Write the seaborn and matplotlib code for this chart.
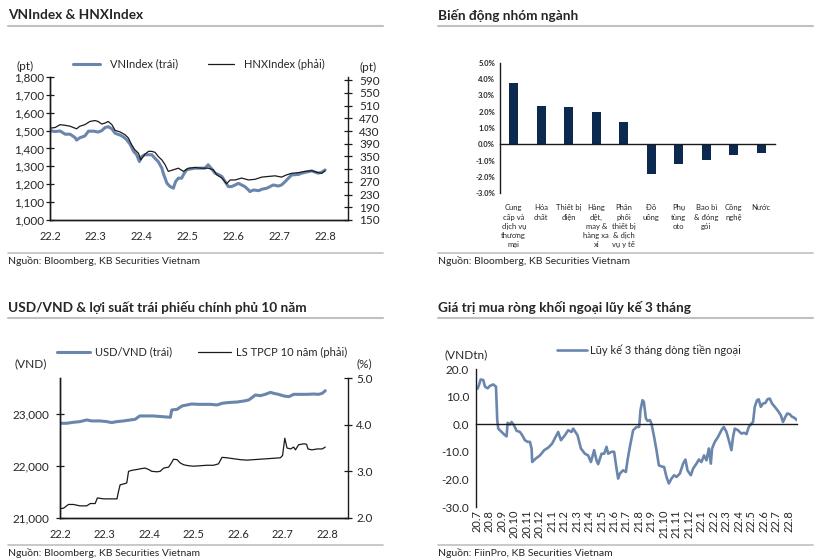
import numpy as np
import matplotlib
matplotlib.use("Agg")
import matplotlib.pyplot as plt
import seaborn as sns
from matplotlib.lines import Line2D
from matplotlib.ticker import FuncFormatter

# VNIndex / HNXIndex (x = months since 22.2)
vn_month = [0.00, 0.11, 0.22, 0.33, 0.44, 0.55, 0.58, 0.65, 0.76, 0.84, 0.95, 1.05, 1.13, 1.20,
            1.27, 1.35, 1.42, 1.53, 1.60, 1.67, 1.75, 1.82, 1.89, 1.95, 2.00, 2.07, 2.15, 2.22,
            2.29, 2.36, 2.44, 2.47, 2.55, 2.62, 2.69, 2.74, 2.80, 2.87, 2.93, 2.98, 3.05, 3.16,
            3.27, 3.38, 3.45, 3.53, 3.60, 3.67, 3.75, 3.82, 3.89, 3.96, 4.04, 4.11, 4.18, 4.25,
            4.33, 4.36, 4.44, 4.55, 4.62, 4.73, 4.80, 4.87, 4.98, 5.05, 5.13, 5.20, 5.27, 5.42,
            5.49, 5.64, 5.71, 5.78, 5.85, 5.93, 6.00]
vn_value = [1500, 1495, 1498, 1480, 1480, 1460, 1447, 1460, 1470, 1497, 1497, 1492, 1500, 1517,
            1522, 1510, 1485, 1475, 1465, 1450, 1423, 1385, 1365, 1327, 1355, 1365, 1365, 1365,
            1345, 1327, 1290, 1262, 1206, 1187, 1178, 1215, 1234, 1234, 1262, 1281, 1285, 1290,
            1290, 1290, 1309, 1285, 1262, 1255, 1243, 1215, 1187, 1187, 1196, 1205, 1196, 1187,
            1168, 1159, 1168, 1164, 1172, 1178, 1187, 1196, 1190, 1196, 1215, 1234, 1252, 1255,
            1262, 1271, 1275, 1268, 1262, 1268, 1280]
hnx_month = [0.00, 0.11, 0.22, 0.33, 0.44, 0.58, 0.65, 0.76, 0.87, 0.98, 1.05, 1.13, 1.20, 1.27,
             1.35, 1.42, 1.53, 1.64, 1.71, 1.78, 1.85, 1.93, 1.98, 2.07, 2.15, 2.22, 2.29, 2.36,
             2.44, 2.51, 2.58, 2.69, 2.80, 2.91, 3.02, 3.16, 3.31, 3.45, 3.56, 3.64, 3.75, 3.85,
             3.93, 4.04, 4.18, 4.33, 4.47, 4.62, 4.76, 4.91, 5.05, 5.16, 5.27, 5.42, 5.56, 5.71,
             5.85, 5.93, 6.00]
hnx_value = [439, 441, 450, 448, 445, 437, 445, 450, 460, 463, 460, 452, 455, 460,
             450, 432, 427, 418, 408, 387, 371, 360, 339, 357, 366, 366, 363, 350,
             339, 324, 303, 308, 313, 303, 313, 315, 313, 313, 308, 292, 282, 264,
             276, 276, 282, 276, 278, 285, 287, 289, 285, 292, 297, 299, 303, 305,
             299, 297, 305]
month_labels = ["22.2", "22.3", "22.4", "22.5", "22.6", "22.7", "22.8"]

# Sector performance
sectors = ["Cung\ncấp và\ndịch vụ\nthương\nmại", "Hóa\nchất", "Thiết bị\nđiện",
           "Hàng\ndệt,\nmay &\nhàng xa\nxỉ", "Phân\nphối\nthiết bị\n& dịch\nvụ y tế",
           "Đồ\nuống", "Phụ\ntùng\noto", "Bao bì\n& đóng\ngói", "Công\nnghệ", "Nước"]
sector_change = [3.73, 2.36, 2.30, 1.97, 1.39, -1.80, -1.19, -0.94, -0.68, -0.51]

# USD/VND and 10Y government bond yield
usd_month = [0.00, 0.15, 0.30, 0.45, 0.60, 0.71, 0.90, 1.05, 1.16, 1.28, 1.43, 1.58, 1.69, 1.79,
             1.95, 2.10, 2.29, 2.48, 2.51, 2.63, 2.74, 2.85, 2.96, 3.11, 3.23, 3.38, 3.53, 3.64,
             3.75, 3.86, 3.98, 4.13, 4.24, 4.31, 4.39, 4.50, 4.61, 4.73, 4.80, 4.91, 5.03, 5.14,
             5.25, 5.40, 5.55, 5.70, 5.81, 5.89, 5.96]
usd_value = [22827, 22827, 22846, 22859, 22891, 22872, 22872, 22859, 22840, 22859, 22872, 22891,
             22904, 22968, 22968, 22968, 22955, 22942, 23083, 23096, 23160, 23180, 23199, 23192,
             23192, 23192, 23180, 23212, 23224, 23231, 23237, 23256, 23276, 23320, 23372, 23359,
             23385, 23423, 23404, 23385, 23353, 23340, 23385, 23385, 23385, 23391, 23385, 23404,
             23455]
bond_month = [0.00, 0.08, 0.19, 0.30, 0.45, 0.60, 0.68, 0.79, 0.84, 0.98, 1.13, 1.28, 1.31, 1.35,
              1.43, 1.50, 1.54, 1.61, 1.73, 1.84, 1.91, 1.99, 2.06, 2.18, 2.25, 2.33, 2.44, 2.49,
              2.55, 2.63, 2.70, 2.78, 2.89, 3.00, 3.15, 3.30, 3.45, 3.56, 3.64, 3.75, 3.90, 4.05,
              4.20, 4.35, 4.50, 4.65, 4.80, 4.95, 5.00, 5.05, 5.10, 5.18, 5.25, 5.29, 5.36, 5.48,
              5.54, 5.57, 5.66, 5.78, 5.89, 5.96]
bond_value = [2.20, 2.21, 2.29, 2.29, 2.26, 2.26, 2.31, 2.31, 2.43, 2.41, 2.41, 2.41, 2.55, 2.71,
              2.73, 2.75, 3.00, 3.02, 3.04, 3.06, 3.07, 3.04, 3.00, 2.99, 3.00, 3.07, 3.09, 3.16,
              3.26, 3.25, 3.18, 3.14, 3.12, 3.11, 3.12, 3.13, 3.13, 3.16, 3.30, 3.29, 3.27, 3.25,
              3.24, 3.25, 3.26, 3.27, 3.28, 3.29, 3.34, 3.71, 3.50, 3.48, 3.52, 3.46, 3.57, 3.59,
              3.58, 3.48, 3.46, 3.48, 3.48, 3.52]

# Foreign net buying, 3-month cumulative (x = months since 20.7)
flow_month = [0.08, 0.19, 0.32, 0.53, 0.67, 0.88, 1.07, 1.33, 1.55, 1.65, 1.73, 2.00, 2.27, 2.40,
              2.48, 2.67, 2.80, 2.99, 3.20, 3.47, 3.65, 3.87, 4.08, 4.27, 4.40, 4.45, 4.72, 5.07,
              5.41, 5.73, 6.05, 6.32, 6.53, 6.75, 7.07, 7.33, 7.60, 7.73, 8.08, 8.35, 8.67, 8.93,
              9.15, 9.41, 9.60, 9.73, 10.00, 10.21, 10.40, 10.53, 10.80, 11.01, 11.20, 11.33,
              11.47, 11.73, 11.95, 12.08, 12.27, 12.53, 12.80, 13.01, 13.12, 13.28, 13.39, 13.55,
              13.68, 13.87, 14.00, 14.21, 14.40, 14.59, 14.80, 15.01, 15.20, 15.39, 15.60, 15.81,
              16.00, 16.27, 16.53, 16.72, 16.88, 17.15, 17.33, 17.60, 17.79, 18.00, 18.21, 18.40,
              18.59, 18.75, 18.85, 19.07, 19.33, 19.60, 19.79, 20.00, 20.19, 20.40, 20.53, 20.67,
              20.93, 21.20, 21.41, 21.60, 21.79, 22.00, 22.13, 22.27, 22.45, 22.59, 22.75, 22.93,
              23.12, 23.28, 23.47, 23.65, 23.87, 24.13, 24.35, 24.53, 24.72, 24.88, 25.07, 25.25,
              25.41, 25.60, 25.73]
flow_value = [12.9, 14.2, 16.2, 16.0, 13.6, 13.0, 13.9, 14.4, 13.6, 1.5, -1.6, -2.8, -4.0, -4.4,
              0.5, -0.1, 0.8, -0.4, -2.4, -2.8, -4.0, -5.8, -6.4, -6.4, -8.8, -13.7, -12.5, -11.3,
              -9.4, -8.5, -7.0, -4.6, -2.8, -5.8, -4.0, -2.2, -2.8, -1.6, -4.0, -8.8, -10.7, -11.3,
              -13.7, -9.4, -13.1, -14.5, -10.7, -10.7, -8.2, -10.7, -10.0, -10.0, -16.1, -19.7,
              -17.9, -16.7, -17.3, -13.1, -8.2, -2.2, -1.0, -1.0, 5.1, 8.7, 8.1, 2.1,
              1.2, 1.5, 0.2, -4.6, -9.4, -14.9, -15.3, -15.5, -19.1, -21.5, -19.7, -18.5,
              -19.1, -17.9, -14.3, -12.8, -16.7, -18.5, -16.1, -14.3, -12.8, -13.7, -11.3, -13.1,
              -8.8, -14.3, -8.8, -6.4, -4.6, -2.2, -1.0, -2.8, -5.8, -9.4, -4.6, -1.6,
              -2.2, -3.4, -3.1, -3.6, -1.0, 0.2, 0.8, 6.3, 8.7, 9.0, 6.3, 7.5,
              7.7, 9.0, 9.3, 7.5, 6.3, 4.8, 3.3, 0.8, 2.7, 3.9, 3.6, 2.7,
              2.4, 1.7, 1.2]
flow_labels = ["20.7", "20.8", "20.9", "20.10", "20.11", "20.12", "21.1", "21.2", "21.3", "21.4",
               "21.5", "21.6", "21.7", "21.8", "21.9", "21.10", "21.11", "21.12", "22.1", "22.2",
               "22.3", "22.4", "22.5", "22.6", "22.7", "22.8"]

sns.set_theme(style="white")
plt.rcParams["font.family"] = ["Lato", "DejaVu Sans"]
plt.rcParams["axes.unicode_minus"] = False

BLUE = "#6a86ad"
DARK = "#1a1a1a"
NAVY = "#0c2a50"
RULE = "#c0c0c0"
W, H = 823, 560

fig = plt.figure(figsize=(W / 100, H / 100), dpi=100)


def rect(l, t, r, b):
    return [l / W, 1 - b / H, (r - l) / W, (b - t) / H]


def fpos(x, y):
    return x / W, 1 - y / H


def panel_frame(x0, x1, y_title, title, y_bottom, source):
    fig.text(*fpos(x0, y_title), title, fontsize=9.8, fontweight="bold", va="center")
    fig.add_artist(Line2D([x0 / W, x1 / W], [1 - (y_title + 11) / H] * 2, color=RULE, lw=1.5))
    fig.add_artist(Line2D([x0 / W, x1 / W], [1 - y_bottom / H] * 2, color=RULE, lw=1.2))
    fig.text(*fpos(x0, y_bottom + 8), source, fontsize=7.5, va="center")


def style_axes(ax):
    for s in ax.spines.values():
        s.set_color(DARK)
        s.set_linewidth(1.0)
    ax.set_xlabel("")
    ax.set_ylabel("")


panel_frame(8, 383, 15, "VNIndex & HNXIndex", 253, "Nguồn: Bloomberg, KB Securities Vietnam")
panel_frame(438, 813, 15, "Biến động nhóm ngành", 253, "Nguồn: Bloomberg, KB Securities Vietnam")
panel_frame(8, 383, 307, "USD/VND & lợi suất trái phiếu chính phủ 10 năm", 545,
            "Nguồn: Bloomberg, KB Securities Vietnam")
panel_frame(438, 813, 307, "Giá trị mua ròng khối ngoại lũy kế 3 tháng", 545,
            "Nguồn: FiinPro, KB Securities Vietnam")

# ---- VNIndex & HNXIndex ----
ax1 = fig.add_axes(rect(50, 77, 348, 220))
sns.lineplot(x=vn_month, y=vn_value, ax=ax1, color=BLUE, lw=2.2)
ax1b = ax1.twinx()
sns.lineplot(x=hnx_month, y=hnx_value, ax=ax1b, color=DARK, lw=0.9)
for a in (ax1, ax1b):
    style_axes(a)
    a.spines["top"].set_visible(False)
ax1.spines["right"].set_visible(False)
ax1.set_xlim(0, 6.5)
ax1.set_ylim(1000, 1800)
ax1b.set_ylim(150, 600)
ax1.set_yticks(range(1000, 1801, 100))
ax1.yaxis.set_major_formatter(FuncFormatter(lambda v, p: f"{v:,.0f}"))
ax1b.set_yticks(range(150, 591, 40))
ax1.set_xticks(range(7), month_labels)
ax1.tick_params(axis="x", direction="in", length=5, width=0.9, color=DARK, labelsize=8, pad=8)
ax1.tick_params(axis="y", direction="inout", length=6, width=0.9, color=DARK, labelsize=8.5, pad=1)
ax1b.tick_params(axis="y", direction="inout", length=6, width=0.9, color=DARK, labelsize=8.5, pad=5)
fig.text(*fpos(25, 66), "(pt)", fontsize=8.5, ha="center", va="center")
fig.text(*fpos(368, 67), "(pt)", fontsize=8.5, ha="center", va="center")
fig.legend([Line2D([], [], color=BLUE, lw=2.2), Line2D([], [], color=DARK, lw=0.9)],
           ["VNIndex (trái)", "HNXIndex (phải)"], loc="center left", bbox_to_anchor=fpos(73, 64),
           ncol=2, frameon=False, fontsize=8, handlelength=2.4, handletextpad=0.9,
           columnspacing=2.7, borderpad=0, borderaxespad=0)

# ---- Sector bars ----
ax2 = fig.add_axes(rect(500, 62.7, 775, 193.3))
sns.barplot(x=sectors, y=sector_change, ax=ax2, color=NAVY, saturation=1, width=0.33, linewidth=0)
style_axes(ax2)
ax2.spines["top"].set_visible(False)
ax2.spines["right"].set_visible(False)
ax2.spines["bottom"].set_position(("data", 0))
ax2.set_ylim(-3, 5)
ax2.set_xlim(-0.5, 9.5)
ax2.set_yticks(range(-3, 6))
ax2.yaxis.set_major_formatter(FuncFormatter(lambda v, p: f"{v:.1f}%"))
ax2.set_xticks(np.arange(0.5, 10, 1), [""] * 10)
ax2.tick_params(axis="x", direction="out", length=3, width=0.9, color=DARK)
ax2.tick_params(axis="y", direction="inout", length=5, width=0.9, color=DARK, labelsize=5.5, pad=1)
for t in ax2.get_yticklabels():
    t.set_fontweight("bold")
sec2 = ax2.secondary_xaxis("bottom")
sec2.set_xticks(range(len(sectors)), sectors)
sec2.tick_params(length=0, pad=8, labelsize=5.5)
sec2.spines["bottom"].set_visible(False)
for t in sec2.get_xticklabels():
    t.set_linespacing(1.35)
    t.set_va("top")

# ---- USD/VND & bond yield ----
ax3 = fig.add_axes(rect(60, 378, 348, 518))
sns.lineplot(x=usd_month, y=usd_value, ax=ax3, color=BLUE, lw=2.2)
ax3b = ax3.twinx()
sns.lineplot(x=bond_month, y=bond_value, ax=ax3b, color=DARK, lw=0.9)
for a in (ax3, ax3b):
    style_axes(a)
    a.spines["top"].set_visible(False)
ax3.spines["right"].set_visible(False)
ax3.set_xlim(0, 6.47)
ax3.set_ylim(21000, 23700)
ax3b.set_ylim(2.0, 5.0)
ax3.set_yticks([21000, 22000, 23000])
ax3.yaxis.set_major_formatter(FuncFormatter(lambda v, p: f"{v:,.0f}"))
ax3b.set_yticks([2.0, 3.0, 4.0, 5.0])
ax3b.yaxis.set_major_formatter(FuncFormatter(lambda v, p: f"{v:.1f}"))
ax3.set_xticks(range(7), month_labels)
ax3.tick_params(axis="x", direction="in", length=5, width=0.9, color=DARK, labelsize=8, pad=8)
ax3.tick_params(axis="y", direction="inout", length=6, width=0.9, color=DARK, labelsize=8.5, pad=5)
ax3b.tick_params(axis="y", direction="inout", length=6, width=0.9, color=DARK, labelsize=8.5, pad=3)
fig.text(*fpos(31, 364), "(VND)", fontsize=8.5, ha="center", va="center")
fig.text(*fpos(364, 364), "(%)", fontsize=8.5, ha="center", va="center")
fig.legend([Line2D([], [], color=BLUE, lw=2.2), Line2D([], [], color=DARK, lw=0.9)],
           ["USD/VND (trái)", "LS TPCP 10 năm (phải)"], loc="center left",
           bbox_to_anchor=fpos(57, 352), ncol=2, frameon=False, fontsize=8, handlelength=3.0,
           handletextpad=0.45, columnspacing=2.3, borderpad=0, borderaxespad=0)

# ---- Foreign flow ----
ax4 = fig.add_axes(rect(476, 369, 797, 507))
sns.lineplot(x=flow_month, y=flow_value, ax=ax4, color=BLUE, lw=1.9)
style_axes(ax4)
ax4.spines["top"].set_visible(False)
ax4.spines["right"].set_visible(False)
ax4.spines["bottom"].set_position(("data", 0))
ax4.set_xlim(-0.05, 25.65)
ax4.set_ylim(-30, 20)
ax4.set_yticks(range(-30, 21, 10))
ax4.yaxis.set_major_formatter(FuncFormatter(lambda v, p: f"{v:.1f}"))
ax4.set_xticks(range(len(flow_labels)), [""] * len(flow_labels))
ax4.tick_params(axis="x", direction="inout", length=5, width=0.9, color=DARK)
ax4.tick_params(axis="y", direction="inout", length=6, width=0.9, color=DARK, labelsize=8.5, pad=2)
sec4 = ax4.secondary_xaxis("bottom")
sec4.set_xticks(range(len(flow_labels)), flow_labels)
sec4.tick_params(length=0, pad=2, labelsize=8, labelrotation=90)
sec4.spines["bottom"].set_visible(False)
fig.text(*fpos(466, 355), "(VNDtn)", fontsize=8.5, ha="center", va="center")
fig.legend([Line2D([], [], color=BLUE, lw=1.9)], ["Lũy kế 3 tháng dòng tiền ngoại"],
           loc="center left", bbox_to_anchor=fpos(557, 350), frameon=False, fontsize=8,
           handlelength=2.7, handletextpad=0.3, borderpad=0, borderaxespad=0)

fig.savefig("out.png", dpi=100)
